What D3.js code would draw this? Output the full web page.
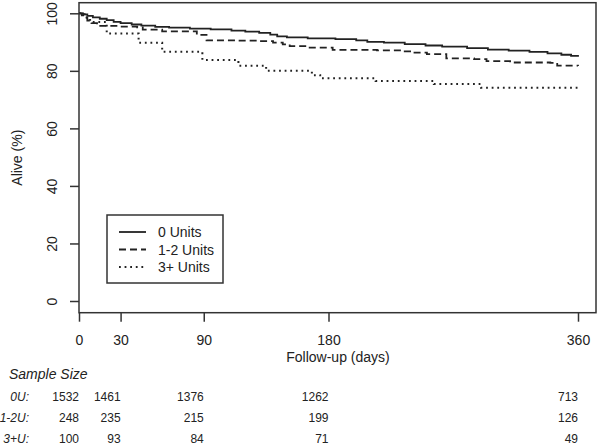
<!DOCTYPE html>
<html><head><meta charset="utf-8">
<script src="https://cdn.jsdelivr.net/npm/d3@7"></script>
<style>body{margin:0;background:#fff}svg{display:block}text{font-family:"Liberation Sans",Arial,sans-serif;fill:#222}</style>
</head><body>
<svg id="c" width="600" height="447"></svg>
<script>
const seriesNames = ["0 Units", "1-2 Units", "3+ Units"];
const rowLabels = ["0U:", "1-2U:", "3+U:"];
const xTicks = [0, 30, 90, 180, 360];
const yTicks = [0, 20, 40, 60, 80, 100];
// [day, % alive] steps
const units0 = [[0,100],[3,99.6],[6,99.1],[10,98.6],[15,98.1],[20,97.6],[25,97],[30,96.6],[38,96.1],[45,95.7],[55,95.3],[65,95],[80,94.7],[95,94.4],[110,94],[120,93.6],[130,93.2],[138,92.6],[143,92],[150,91.6],[165,91.3],[185,91],[200,90.6],[208,90.1],[220,89.8],[235,89.3],[250,88.8],[262,88.4],[280,87.9],[295,87.4],[310,87],[325,86.6],[338,86.1],[348,85.6],[355,85.2],[360,84.9]];
const units12 = [[0,100],[2,99.3],[4,98.5],[6,97.5],[9,96.6],[13,95.6],[30,95.4],[42,95.1],[46,94.3],[60,93.7],[85,92.5],[92,90.6],[115,90.5],[130,90.3],[140,89.8],[147,89.2],[152,88.6],[165,88.1],[183,87.3],[215,87.1],[235,86.8],[241,86.3],[251,85.8],[265,84.3],[285,84.1],[294,83.4],[311,82.9],[340,82.8],[345,81.8],[360,81.7]];
const units3 = [[0,100],[4,98.5],[8,97],[20,93],[43,89.8],[60,86.6],[89,83.8],[115,81.8],[135,80],[168,78.5],[174,77.4],[214,76.5],[256,75.4],[290,74.1],[360,74.1]];
const sample0 = [1532, 1461, 1376, 1262, 713];
const sample12 = [248, 235, 215, 199, 126];
const sample3 = [100, 93, 84, 71, 49];

const svg = d3.select("#c");
const x = d3.scaleLinear().domain([0, 360]).range([79, 578]);
const y = d3.scaleLinear().domain([0, 100]).range([301, 13.3]);
const box = {l: 79, t: 2.7, r: 596, b: 312.7};
const ink = "#222";

// data lines
const series = [units0, units12, units3];
const dashes = [null, "7,4", "1.8,3.8"];
const widths = [1.8, 1.8, 2];
const line = d3.line().x(d => x(d[0])).y(d => y(d[1])).curve(d3.curveStepAfter);
series.forEach((s, i) => {
  svg.append("path").attr("d", line(s)).attr("fill", "none").attr("stroke", ink)
    .attr("stroke-width", widths[i]).attr("stroke-dasharray", dashes[i]);
});

// box
svg.append("rect").attr("x", box.l).attr("y", box.t).attr("width", box.r - box.l).attr("height", box.b - box.t)
  .attr("fill", "none").attr("stroke", "#333").attr("stroke-width", 1.5);

// x axis
const xa = svg.append("g").attr("transform", `translate(0,${box.b})`)
  .call(d3.axisBottom(x).tickValues(xTicks).tickSize(9).tickPadding(13).tickFormat(d3.format("d")));
xa.select(".domain").remove();
xa.selectAll("line").attr("stroke", "#333").attr("stroke-width", 1.5);
xa.selectAll("text").attr("font-size", 14).attr("fill", ink).style("font-family", "Liberation Sans, Arial, sans-serif");

// y axis
const ya = svg.append("g").attr("transform", `translate(${box.l},0)`)
  .call(d3.axisLeft(y).tickValues(yTicks).tickSize(9).tickFormat(d3.format("d")));
ya.select(".domain").remove();
ya.selectAll("line").attr("stroke", "#333").attr("stroke-width", 1.5);
ya.selectAll("text").attr("font-size", 14).attr("fill", ink)
  .style("font-family", "Liberation Sans, Arial, sans-serif")
  .attr("x", 0).attr("dy", 0).attr("text-anchor", "middle")
  .attr("transform", "translate(-22,0) rotate(-90)");

// axis titles
svg.append("text").attr("x", 338).attr("y", 362).attr("text-anchor", "middle").attr("font-size", 14).text("Follow-up (days)");
svg.append("text").attr("transform", `translate(22,${(box.t + box.b) / 2}) rotate(-90)`)
  .attr("text-anchor", "middle").attr("font-size", 14).text("Alive (%)");

// legend
const lg = svg.append("g");
lg.append("rect").attr("x", 107).attr("y", 215).attr("width", 116).attr("height", 68)
  .attr("fill", "#fff").attr("stroke", "#333").attr("stroke-width", 1.5);
seriesNames.forEach((n, i) => {
  const yy = 232 + i * 17.5;
  lg.append("line").attr("x1", 119).attr("x2", 146).attr("y1", yy).attr("y2", yy)
    .attr("stroke", ink).attr("stroke-width", widths[i]).attr("stroke-dasharray", dashes[i]);
  lg.append("text").attr("x", 158).attr("y", yy + 5).attr("font-size", 14).text(n);
});

// sample size table
svg.append("text").attr("x", 9).attr("y", 379).attr("font-size", 14).attr("font-style", "italic").text("Sample Size");
const samples = [sample0, sample12, sample3];
samples.forEach((row, r) => {
  const yy = 401 + r * 21;
  svg.append("text").attr("x", 29).attr("y", yy).attr("text-anchor", "end").attr("font-size", 12)
    .attr("font-style", "italic").text(rowLabels[r]);
  row.forEach((v, j) => {
    svg.append("text").attr("x", x(xTicks[j])).attr("y", yy).attr("text-anchor", "end")
      .attr("font-size", 12).text(v);
  });
});
</script>
</body></html>
